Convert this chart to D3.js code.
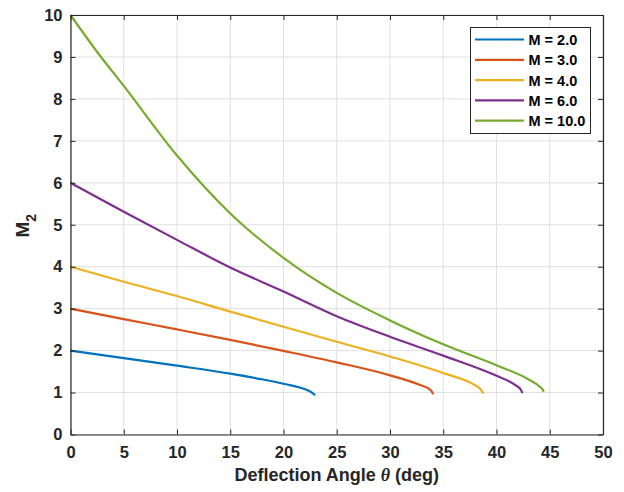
<!DOCTYPE html>
<html>
<head>
<meta charset="utf-8">
<script src="https://cdn.jsdelivr.net/npm/d3@7/dist/d3.min.js"></script>
<style>
  html, body { margin: 0; padding: 0; background: #fff; }
  svg { display: block; font-family: "Liberation Sans", Arial, Helvetica, sans-serif; }
</style>
</head>
<body>
<svg id="chart" width="624" height="492"></svg>
<script>
// ---- Data ----
const seriesNames = ["M = 2.0", "M = 3.0", "M = 4.0", "M = 6.0", "M = 10.0"];
const seriesColors = ["#0072BD", "#D95319", "#EDB120", "#7E2F8E", "#77AC30"];

const theta_M2  = [0, 5, 10, 15, 18.1, 20, 20.7, 21.9, 22.6, 22.97];
const m2_M2     = [2.0, 1.82, 1.64, 1.45, 1.31, 1.21, 1.17, 1.09, 1.01, 0.935];

const theta_M3  = [0, 5, 10, 15, 20, 25, 30, 32.7, 33.8, 34.07];
const m2_M3     = [3.0, 2.75, 2.505, 2.255, 1.994, 1.72, 1.41, 1.19, 1.06, 0.96];

const theta_M4  = [0, 5, 10, 15, 20, 25, 30, 35.3, 37.8, 38.5, 38.78];
const m2_M4     = [4.0, 3.64, 3.30, 2.93, 2.57, 2.21, 1.86, 1.44, 1.20, 1.08, 0.975];

const theta_M6  = [0, 5, 10, 15, 20, 25, 30, 35, 39.9, 41.7, 42.3, 42.43];
const m2_M6     = [6.0, 5.31, 4.64, 3.98, 3.41, 2.82, 2.33, 1.88, 1.41, 1.19, 1.06, 0.985];

const theta_M10 = [0, 2.56, 5, 10, 15, 20, 25, 30, 35, 40.1, 42.9, 44.06, 44.36, 44.43];
const m2_M10    = [10.0, 9.10, 8.31, 6.65, 5.27, 4.21, 3.375, 2.72, 2.15, 1.64, 1.33, 1.14, 1.06, 1.015];

const xTicks = [0, 5, 10, 15, 20, 25, 30, 35, 40, 45, 50];
const yTicks = [0, 1, 2, 3, 4, 5, 6, 7, 8, 9, 10];

const seriesTheta = [theta_M2, theta_M3, theta_M4, theta_M6, theta_M10];
const seriesM2 = [m2_M2, m2_M3, m2_M4, m2_M6, m2_M10];

// ---- Layout ----
const pLeft = 70.5, pRight = 603, pTop = 15, pBottom = 434.5;

const svg = d3.select("#chart");
const x = d3.scaleLinear().domain([0, 50]).range([pLeft, pRight]);
const y = d3.scaleLinear().domain([0, 10]).range([pBottom, pTop]);

const axisColor = "#262626";
const gridColor = "#e1e1e1";

// grid
const grid = svg.append("g");
grid.selectAll("line.gx").data(xTicks).join("line")
  .attr("x1", d => x(d)).attr("x2", d => x(d))
  .attr("y1", pTop).attr("y2", pBottom)
  .attr("stroke", gridColor).attr("stroke-width", 1);
grid.selectAll("line.gy").data(yTicks).join("line")
  .attr("x1", pLeft).attr("x2", pRight)
  .attr("y1", d => y(d)).attr("y2", d => y(d))
  .attr("stroke", gridColor).attr("stroke-width", 1);

// series
const line = d3.line()
  .x(d => x(d[0])).y(d => y(d[1]))
  .curve(d3.curveMonotoneX);

seriesTheta.forEach((th, i) => {
  const pts = th.map((t, j) => [t, seriesM2[i][j]]);
  svg.append("path")
    .datum(pts)
    .attr("d", line)
    .attr("fill", "none")
    .attr("stroke", seriesColors[i])
    .attr("stroke-width", 2.2)
    .attr("stroke-linejoin", "round");
});

// axes (ticks inward on all sides)
const tickLen = 5;
const fontTicks = "bold 16.5px 'Liberation Sans', Arial, sans-serif";

const xAxisB = d3.axisBottom(x).tickValues(xTicks).tickSizeInner(-tickLen).tickSizeOuter(0).tickPadding(12).tickFormat(d3.format("d"));
const xAxisT = d3.axisTop(x).tickValues(xTicks).tickSizeInner(-tickLen).tickSizeOuter(0).tickFormat("");
const yAxisL = d3.axisLeft(y).tickValues(yTicks).tickSizeInner(-tickLen).tickSizeOuter(0).tickPadding(8).tickFormat(d3.format("d"));
const yAxisR = d3.axisRight(y).tickValues(yTicks).tickSizeInner(-tickLen).tickSizeOuter(0).tickFormat("");

function styleAxis(g) {
  g.select(".domain").attr("stroke", axisColor).attr("stroke-width", 1.2);
  g.selectAll(".tick line").attr("stroke", axisColor).attr("stroke-width", 1);
  g.selectAll(".tick text").attr("fill", "#262626").style("font", fontTicks);
}

svg.append("g").attr("transform", `translate(0,${pBottom})`).call(xAxisB).call(styleAxis);
svg.append("g").attr("transform", `translate(0,${pTop})`).call(xAxisT).call(styleAxis);
svg.append("g").attr("transform", `translate(${pLeft},0)`).call(yAxisL).call(styleAxis);
svg.append("g").attr("transform", `translate(${pRight},0)`).call(yAxisR).call(styleAxis);

// axis labels
const xl = svg.append("text")
  .attr("x", (pLeft + pRight) / 2).attr("y", 481)
  .attr("text-anchor", "middle")
  .attr("fill", "#262626")
  .style("font", "bold 18px 'Liberation Sans', Arial, sans-serif");
xl.append("tspan").text("Deflection Angle ");
xl.append("tspan").text("θ").style("font-style", "italic").style("font-family", "'Liberation Serif', 'Times New Roman', serif");
xl.append("tspan").text(" (deg)");

const yl = svg.append("text")
  .attr("transform", `translate(28.5,${(pTop + pBottom) / 2 + 1}) rotate(-90)`)
  .attr("text-anchor", "middle")
  .attr("fill", "#262626")
  .style("font", "bold 19px 'Liberation Sans', Arial, sans-serif");
yl.append("tspan").text("M");
yl.append("tspan").text("2").attr("dy", 7).style("font-size", "14px");

// legend
const lg = svg.append("g");
const lgX = 470.5, lgY = 27.5, lgW = 120, lgH = 106;
lg.append("rect").attr("x", lgX).attr("y", lgY).attr("width", lgW).attr("height", lgH)
  .attr("fill", "#fff").attr("stroke", axisColor).attr("stroke-width", 1);
seriesNames.forEach((name, i) => {
  const yy = 39.5 + i * 20.3;
  lg.append("line").attr("x1", 475).attr("x2", 524).attr("y1", yy).attr("y2", yy)
    .attr("stroke", seriesColors[i]).attr("stroke-width", 2.2);
  lg.append("text").attr("x", 528.5).attr("y", yy + 5.5)
    .attr("fill", "#000")
    .style("font", "bold 14.5px 'Liberation Sans', Arial, sans-serif")
    .text(name);
});
</script>
</body>
</html>
